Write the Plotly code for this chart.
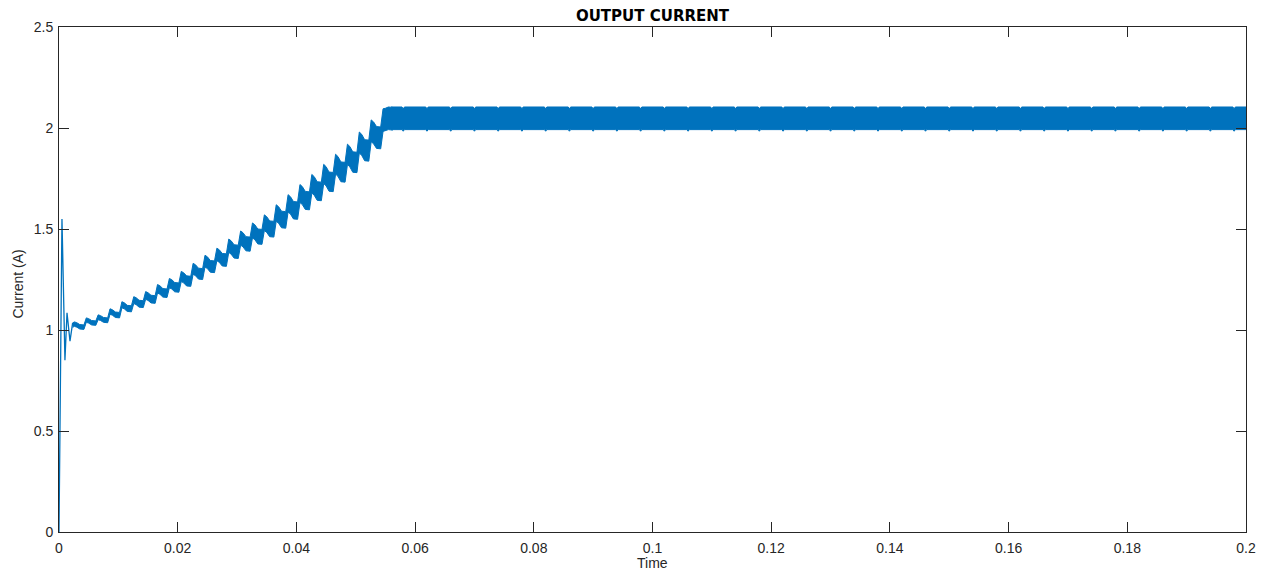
import plotly.graph_objects as go

# ---------------- data ----------------
# start-up transient (thin line)
start_t = [0.0, 0.0001, 0.0005, 0.0010, 0.00135, 0.00185, 0.0023]
start_i = [0.0, 0.30, 1.55, 0.85, 1.085, 0.945, 1.035]

# ramp: one entry per ripple tooth (time of tooth crest, crest value,
# value after the drop, thickness of the rippled band)
tooth_t = [0.0026, 0.0046, 0.0066, 0.0086, 0.0106, 0.0126, 0.0146, 0.0166,
           0.0186, 0.0206, 0.0226, 0.0246, 0.0266, 0.0286, 0.0306, 0.0326,
           0.0346, 0.0366, 0.0386, 0.0406, 0.0426, 0.0446, 0.0466, 0.0486,
           0.0506, 0.0526, 0.0546]
tooth_peak = [1.040, 1.060, 1.075, 1.105, 1.140, 1.165, 1.190, 1.225,
              1.255, 1.290, 1.330, 1.370, 1.405, 1.450, 1.490, 1.530,
              1.570, 1.620, 1.670, 1.720, 1.770, 1.820, 1.870, 1.920,
              1.980, 2.040, 2.095]
tooth_after = [1.027, 1.047, 1.062, 1.089, 1.122, 1.147, 1.172, 1.205,
               1.235, 1.268, 1.306, 1.344, 1.379, 1.422, 1.462, 1.500,
               1.540, 1.588, 1.636, 1.686, 1.734, 1.782, 1.832, 1.882,
               1.942, 2.007, 2.104]
tooth_width = [0.022, 0.022, 0.024, 0.027, 0.030, 0.034, 0.038, 0.042,
               0.046, 0.050, 0.054, 0.058, 0.062, 0.066, 0.070, 0.074,
               0.078, 0.082, 0.086, 0.089, 0.092, 0.095, 0.098, 0.101,
               0.104, 0.108, 0.112]

# steady state: flat band with small periodic notches
notch_t = [0.058, 0.062, 0.066, 0.070, 0.074, 0.078, 0.082, 0.086, 0.090,
           0.094, 0.098, 0.102, 0.106, 0.110, 0.114, 0.118, 0.122, 0.126,
           0.130, 0.134, 0.138, 0.142, 0.146, 0.150, 0.154, 0.158, 0.162,
           0.166, 0.170, 0.174, 0.178, 0.182, 0.186, 0.190, 0.194, 0.198]
steady_hi = 2.104
steady_lo = 1.992
notch_hi = 2.094
notch_lo = 1.984
t_end = 0.2

x_ticks = [0, 0.02, 0.04, 0.06, 0.08, 0.1, 0.12, 0.14, 0.16, 0.18, 0.2]
x_tick_labels = ['0', '0.02', '0.04', '0.06', '0.08', '0.1', '0.12', '0.14',
                 '0.16', '0.18', '0.2']
y_ticks = [0, 0.5, 1, 1.5, 2, 2.5]
y_tick_labels = ['0', '0.5', '1', '1.5', '2', '2.5']

# ---------------- build band polygon ----------------
band_t = [start_t[-1]]
band_hi = [start_i[-1]]
band_lo = [start_i[-1] - tooth_width[0]]
for t, p, a, w in zip(tooth_t, tooth_peak, tooth_after, tooth_width):
    pts_t = [t, t + 0.0004, t + 0.0009, t + 0.0016]
    pts_v = [p, p - 0.3 * (p - a), a, a - 0.002]
    band_t += pts_t
    band_hi += pts_v
    band_lo += [v - w for v in pts_v]
band_t.append(0.0560)
band_hi.append(steady_hi)
band_lo.append(steady_lo)
for tn in notch_t:
    band_t += [tn - 0.0002, tn, tn + 0.0002]
    band_hi += [steady_hi, notch_hi, steady_hi]
    band_lo += [steady_lo, notch_lo, steady_lo]
band_t.append(t_end)
band_hi.append(steady_hi)
band_lo.append(steady_lo)

poly_x = band_t + band_t[::-1]
poly_y = band_hi + band_lo[::-1]

BLUE = '#0072BD'
AX = '#262626'
FONT = 'Liberation Sans, Arial, Helvetica, sans-serif'

fig = go.Figure()
fig.add_trace(go.Scatter(x=start_t, y=start_i, mode='lines',
                         line=dict(color=BLUE, width=1.3), hoverinfo='skip',
                         showlegend=False))
fig.add_trace(go.Scatter(x=poly_x, y=poly_y, mode='lines', fill='toself',
                         fillcolor=BLUE, line=dict(color=BLUE, width=1),
                         hoverinfo='skip', showlegend=False))

fig.update_layout(
    width=1272, height=574,
    margin=dict(l=59, r=26, t=27, b=42),
    paper_bgcolor='white', plot_bgcolor='white',
    font=dict(family=FONT, size=14, color=AX),
    title=dict(text='<b>OUTPUT CURRENT</b>', x=0.5, xref='paper',
               y=1 - 16 / 574, yref='container', yanchor='middle',
               xanchor='center',
               font=dict(family='DejaVu Sans, Arial', size=15, color='black')),
    showlegend=False,
)
fig.update_xaxes(range=[0, 0.2], tickvals=x_ticks, ticktext=x_tick_labels,
                 showline=True, linecolor=AX, linewidth=1, mirror='ticks',
                 ticks='inside', ticklen=10, tickcolor=AX, showgrid=False,
                 zeroline=False, ticklabelstandoff=3,
                 tickfont=dict(size=14, color=AX))
fig.update_yaxes(range=[0, 2.5], tickvals=y_ticks, ticktext=y_tick_labels,
                 showline=True, linecolor=AX, linewidth=1, mirror='ticks',
                 ticks='inside', ticklen=10, tickcolor=AX, showgrid=False,
                 zeroline=False, ticklabelstandoff=2,
                 tickfont=dict(size=14, color=AX))

fig.add_annotation(text='Time', xref='paper', yref='paper', x=0.5,
                   y=-31 / 505, yanchor='middle', xanchor='center',
                   showarrow=False, font=dict(size=14, color=AX))
fig.add_annotation(text='Current (A)', xref='paper', yref='paper',
                   x=-41 / 1187, y=0.49, textangle=-90, xanchor='center',
                   yanchor='middle', showarrow=False,
                   font=dict(size=14, color=AX))

fig.write_html('out.html')
